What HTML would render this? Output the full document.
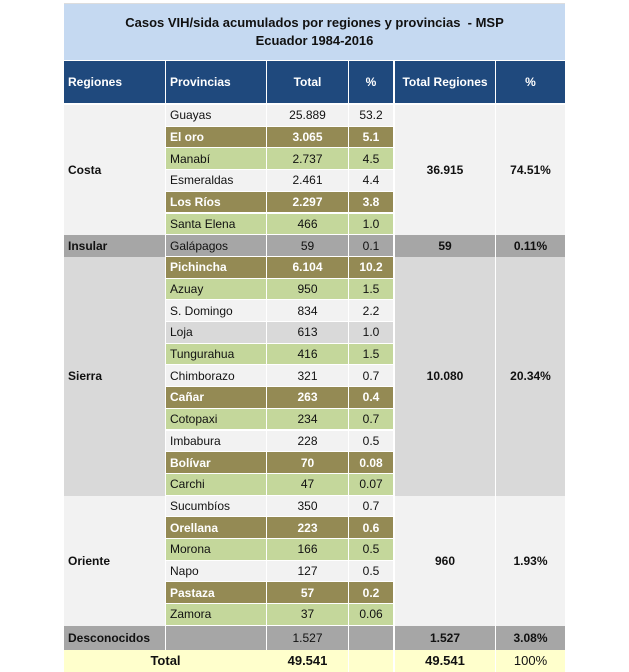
<!DOCTYPE html>
<html><head><meta charset="utf-8">
<style>
body{margin:0;width:629px;height:672px;background:#fff;overflow:hidden;font-family:"Liberation Sans",sans-serif;}
#wrap{position:relative;width:629px;height:672px;}
.c{position:absolute;box-sizing:border-box;display:flex;align-items:center;font-size:12px;color:#111;white-space:nowrap;}
.l{justify-content:flex-start;padding-left:4px}
.m{justify-content:center}
.b{font-weight:bold}
</style></head><body>
<div id="wrap">
<div class="c m b" style="left:64px;top:3px;width:501px;height:57px;background:#c5d9f1;flex-direction:column;font-size:13px;line-height:18px;justify-content:center;border-top:1px solid #ddd">
<div>Casos VIH/sida acumulados por regiones y provincias &nbsp;- MSP</div><div>Ecuador 1984-2016</div></div>
</div>
<script>
const headers=["Regiones","Provincias","Total","%","Total Regiones","%"];
const regions=["Costa","Insular","Sierra","Oriente"];
const regionCounts=[6,1,11,6];
const regionTotals=["36.915","59","10.080","960"];
const regionPcts=["74.51%","0.11%","20.34%","1.93%"];
const provinces=["Guayas","El oro","Manabí","Esmeraldas","Los Ríos","Santa Elena","Galápagos","Pichincha","Azuay","S. Domingo","Loja","Tungurahua","Chimborazo","Cañar","Cotopaxi","Imbabura","Bolívar","Carchi","Sucumbíos","Orellana","Morona","Napo","Pastaza","Zamora"];
const totals=["25.889","3.065","2.737","2.461","2.297","466","59","6.104","950","834","613","416","321","263","234","228","70","47","350","223","166","127","57","37"];
const pcts=["53.2","5.1","4.5","4.4","3.8","1.0","0.1","10.2","1.5","2.2","1.0","1.5","0.7","0.4","0.7","0.5","0.08","0.07","0.7","0.6","0.5","0.5","0.2","0.06"];
const styles=["w","br","g","w","br","g","gr","br","g","w","lg","g","w","br","g","w","br","g","w","br","g","w","br","g"];
const colX=[64,166,267,349,395,496],colW=[101,100,81,44,100,69];
const regionBg=["#f2f2f2","#a6a6a6","#d9d9d9","#f2f2f2"];
const bgMap={w:"#f2f2f2",br:"#948a54",g:"#c4d79b",gr:"#a6a6a6",lg:"#d9d9d9"};
const wrap=document.getElementById('wrap');
function cell(x,y,w,h,txt,cls,bg,color){
  const d=document.createElement('div');
  d.className='c '+cls;
  d.style.cssText=`left:${x}px;top:${y}px;width:${w}px;height:${h}px;background:${bg};`+(color?`color:${color};`:'');
  d.textContent=txt;
  wrap.appendChild(d);return d;
}
headers.forEach((h,i)=>{
  const d=cell(colX[i],61,colW[i],42,h,(i<2?'l b':'m b'),'#1f497d','#fff');
  
  
});
const top0=105,rh=21.7;
let r=0;
regions.forEach((reg,k)=>{
  const y=top0+r*rh,h=regionCounts[k]*rh;
  let d=cell(colX[0],y,colW[0],h,reg,'l b',regionBg[k]);
  
  
  d=cell(colX[4],y,colW[4],h,regionTotals[k],'m b',regionBg[k]);
  
  
  d=cell(colX[5],y,colW[5],h,regionPcts[k],'m b',regionBg[k]);
  
  
  r+=regionCounts[k];
});
provinces.forEach((p,i)=>{
  const y=top0+i*rh,s=styles[i],bg=bgMap[s];
  const isBr=s==='br',col=isBr?'#fff':null,bold=isBr?' b':'';
  const vals=[p,totals[i],pcts[i]];
  [1,2,3].forEach((ci,j)=>{
    const d=cell(colX[ci]+(ci===1?0:0),y,colW[ci],rh,vals[j],(j===0?'l':'m')+bold,bg,col);
    d.style.borderBottom='1px solid #fff';
    
    
  });
});
const ydes=top0+provinces.length*rh;
const desc=[["Desconocidos","l b"],["",""],["1.527","m"],["",""],["1.527","m b"],["3.08%","m b"]];
desc.forEach((v,i)=>{
  const d=cell(colX[i],ydes,colW[i],24,v[0],v[1]||'m','#a6a6a6');
  
  
});
const tot=[[64,202,"Total","m b"],[267,81,"49.541","m b"],[349,44,"",""],[395,100,"49.541","m b"],[496,69,"100%","m"]];
tot.forEach((v,i)=>{
  const d=cell(v[0],ydes+24,v[1]+(i===0?1:0),22,v[2],v[3]||'m','#ffffcc');
  d.style.fontSize='13px';
  
  
});
</script>
</body></html>
